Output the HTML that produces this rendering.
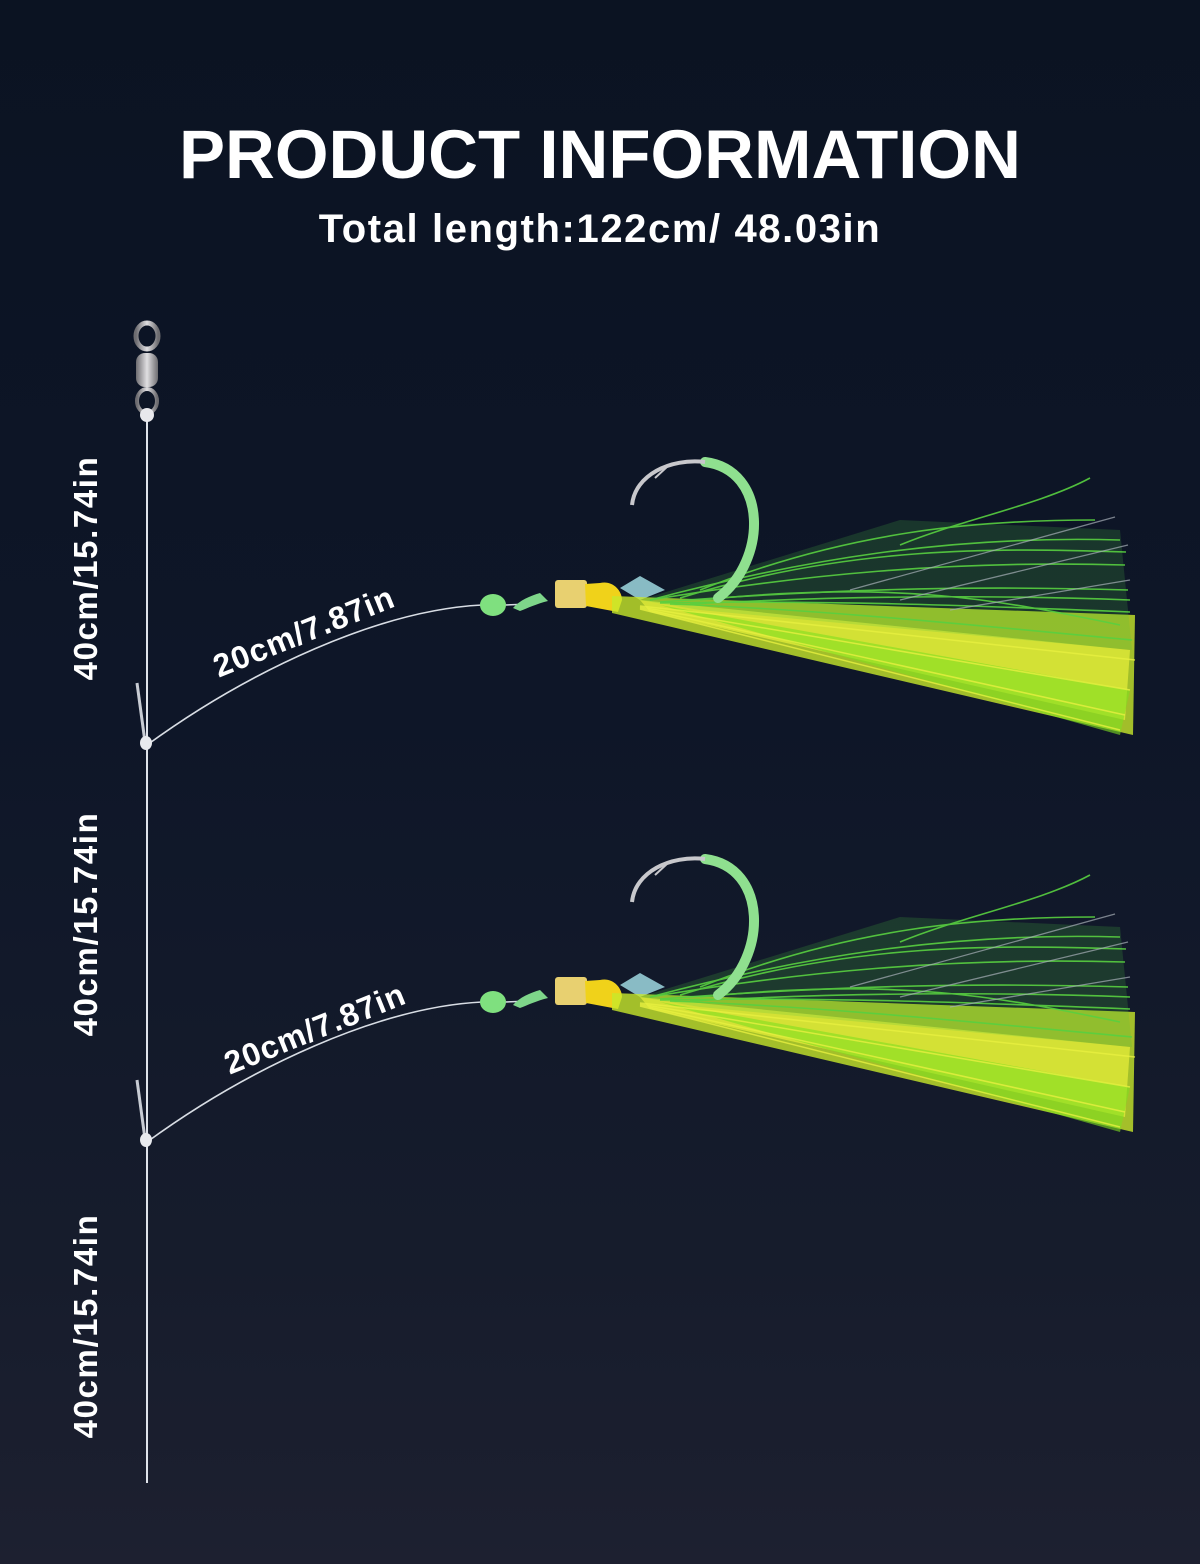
<!DOCTYPE html>
<html><head><meta charset="utf-8"><style>
html,body{margin:0;padding:0}
body{width:1200px;height:1564px;overflow:hidden;background:linear-gradient(180deg,#0b1322 0%,#0e1628 45%,#161c2c 80%,#1d2030 100%);font-family:"Liberation Sans",sans-serif;position:relative}
.t{position:absolute;left:0;width:1200px;text-align:center;color:#fff;font-weight:bold}
.v{position:absolute;color:#fff;font-weight:bold;font-size:33px;letter-spacing:1.6px;white-space:nowrap;transform:translate(-50%,-50%) rotate(-90deg)}
.b{position:absolute;color:#fff;font-weight:bold;font-size:32px;letter-spacing:1px;white-space:nowrap;transform:translate(-50%,-50%) rotate(-22deg)}
svg{position:absolute;left:0;top:0}
</style></head><body>
<svg width="1200" height="1564" viewBox="0 0 1200 1564">
<defs>
<linearGradient id="met" x1="0" x2="1"><stop offset="0" stop-color="#6d6c70"/><stop offset="0.5" stop-color="#e0dfe2"/><stop offset="1" stop-color="#6d6c70"/></linearGradient>
<g id="lure">
<path d="M147 745 C 250 670, 380 610, 482 605" stroke="#d8dde4" stroke-width="1.6" fill="none"/>
<line x1="505" y1="605" x2="530" y2="604" stroke="#d8dde4" stroke-width="1.5"/>
<line x1="137" y1="683" x2="145" y2="742" stroke="#c8ccd4" stroke-width="3"/>
<ellipse cx="146" cy="743" rx="6" ry="7" fill="#e8eaee"/>
<ellipse cx="493" cy="605" rx="13" ry="11" fill="#7fe07f"/>
<path d="M513 608 C 520 600, 530 596, 540 593 L 548 601 C 536 604, 528 608, 520 611 Z" fill="#7ed68a"/>
<rect x="555" y="580" width="32" height="28" rx="3" fill="#e8d070"/>
<path d="M585 584 L 600 583 C 612 580, 622 590, 622 600 L 618 612 L 586 606 Z" fill="#f0d21a"/>
<polygon points="620,588 640,576 665,590 640,600" fill="#9fd8e0" opacity="0.85"/>
<polygon points="612,596 1135,615 1133,735 612,613" fill="#c8e82a" opacity="0.8"/>
<polygon points="640,600 1130,650 1125,720 650,612" fill="#e8f03a" opacity="0.7"/>
<polygon points="660,605 1130,690 1120,735" fill="#7ee020" opacity="0.6"/>
<polygon points="640,600 900,520 1120,530 1132,650 700,610" fill="#4cbf40" opacity="0.2"/>
<g stroke="#58d040" stroke-width="1.6" fill="none" opacity="0.9">
<path d="M650 600 C 800 560, 950 535, 1120 540"/>
<path d="M650 600 C 800 575, 950 560, 1125 565"/>
<path d="M660 602 C 820 590, 960 585, 1128 590"/>
<path d="M660 603 C 820 600, 960 605, 1130 612"/>
<path d="M670 604 C 830 610, 970 625, 1132 640"/>
<path d="M700 590 C 850 530, 980 520, 1095 520"/>
<path d="M900 545 C 960 520, 1040 505, 1090 478"/>
<path d="M700 600 C 900 580, 1000 600, 1120 625"/>
<path d="M680 598 C 850 545, 1000 548, 1126 552"/>
<path d="M690 604 C 860 595, 1000 595, 1130 600"/>
</g>
<g stroke="#a8b0b8" stroke-width="1.3" opacity="0.7">
<line x1="850" y1="590" x2="1115" y2="517"/>
<line x1="900" y1="600" x2="1128" y2="545"/>
<line x1="950" y1="610" x2="1130" y2="580"/>
</g>
<g stroke="#e8f040" stroke-width="1.5" opacity="0.8">
<line x1="640" y1="606" x2="1135" y2="660"/>
<line x1="640" y1="607" x2="1130" y2="690"/>
<line x1="640" y1="608" x2="1125" y2="715"/>
<line x1="640" y1="609" x2="1120" y2="730"/>
</g>
<path d="M718 598 C 768 560, 768 470, 705 462" stroke="#8fe08f" stroke-width="10" fill="none" stroke-linecap="round"/>
<path d="M705 462 C 670 458, 635 475, 632 505" stroke="#c8c8cc" stroke-width="4" fill="none"/>
<line x1="668" y1="466" x2="655" y2="478" stroke="#c8c8cc" stroke-width="2"/>
</g>
</defs>
<line x1="147" y1="420" x2="147" y2="1483" stroke="#dfe3ea" stroke-width="2"/>
<ellipse cx="147" cy="336" rx="11" ry="13" fill="none" stroke="url(#met)" stroke-width="5"/>
<rect x="136" y="353" width="22" height="34" rx="9" fill="url(#met)"/>
<ellipse cx="147" cy="401" rx="10" ry="12" fill="none" stroke="url(#met)" stroke-width="4"/>
<ellipse cx="147" cy="415" rx="7" ry="7" fill="#e8e8ec"/>
<use href="#lure"/>
<use href="#lure" transform="translate(0,397)"/>
</svg>
<div class="t" style="top:115px;font-size:69px">PRODUCT INFORMATION</div>
<div class="t" style="top:207px;font-size:40px;letter-spacing:1.6px">Total length:122cm/ 48.03in</div>
<div class="v" style="left:86px;top:568px">40cm/15.74in</div>
<div class="v" style="left:86px;top:924px">40cm/15.74in</div>
<div class="v" style="left:86px;top:1326px">40cm/15.74in</div>
<div class="b" style="left:304px;top:632px">20cm/7.87in</div>
<div class="b" style="left:315px;top:1029px">20cm/7.87in</div>
</body></html>
